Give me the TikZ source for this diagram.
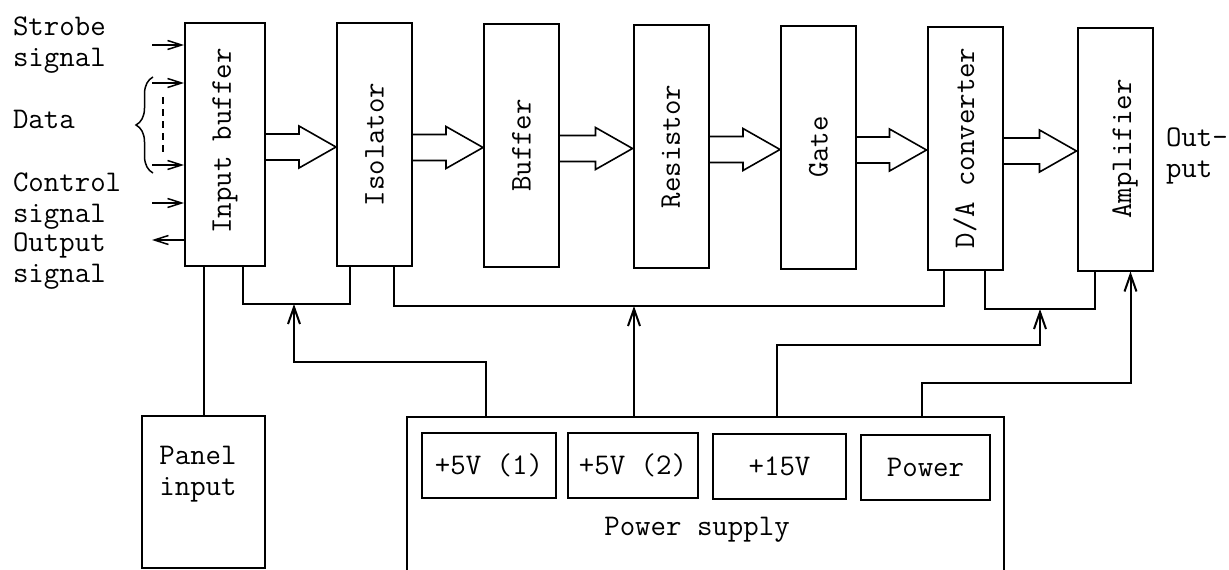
\documentclass[tikz,border=0pt]{standalone}
\usetikzlibrary{calc,arrows.meta,decorations.pathreplacing}

\begin{document}
\begin{tikzpicture}
[x=1pt, y=-1pt, black, line width=2pt,
font=\ttfamily\fontsize{30}{31}\selectfont,
block/.style = {rectangle, draw, minimum width=75pt, minimum height=243pt, inner sep=0pt},
vtext/.style = {rotate=90, inner sep=0pt},
unit/.style = {rectangle, draw, minimum height=65pt, inner sep=0pt},
lbl/.style = {align=left, inner sep=0pt},
sig/.style = {-{Straight Barb[length=14pt, width=9pt]}, line width=1.5pt},
feed/.style = {-{Straight Barb[length=17pt, width=12pt]}}]
\useasboundingbox (0,0) rectangle (1229,570);

% signal chain
\node[block, minimum width=80pt, label={[vtext, xshift=3pt]center:Input buffer}] (ib) at (225,144) {};
\node[block, label={[vtext]center:Isolator}] (iso) at (374.5,144.5) {};
\node[block, label={[vtext]center:Buffer}] (buf) at (521.5,145.5) {};
\node[block, label={[vtext]center:Resistor}] (res) at (671,146.5) {};
\node[block, label={[vtext]center:Gate}] (gate) at (818.5,147) {};
\node[block, label={[vtext]center:D/A converter}] (dac) at (965,148) {};
\node[block, label={[vtext, yshift=-10pt]center:Amplifier}] (amp) at (1115,149) {};
\foreach \a/\b in {ib/iso, iso/buf, buf/res, res/gate, gate/dac, dac/amp}
  \draw[line width=1.6pt] let \p1=(\a.east), \p2=(\b.west) in
    (\x1,{\y1+10pt}) -- ({\x2-37pt},{\y1+10pt}) -- ({\x2-37pt},{\y1+18pt}) -- (\x2,{\y1-3pt})
    -- ({\x2-37pt},{\y1-24pt}) -- ({\x2-37pt},{\y1-16pt}) -- (\x1,{\y1-16pt});
\node[lbl, anchor=north west] (out) at (1165,127) {Out-\\put};

% inputs
\node[lbl, anchor=north west] (strobe) at (12,16) {Strobe\\signal};
\node[lbl, anchor=base west] (data) at (12,128) {Data};
\node[lbl, anchor=north west] (ctrl) at (12,172) {Control\\signal};
\node[lbl, anchor=north west] (outsig) at (12,232) {Output\\signal};
\coordinate (st) at (152,45);
\coordinate (d1) at (152,83);
\coordinate (d2) at (152,165);
\coordinate (ct) at (152,203);
\coordinate (ot) at (152,240);
\draw[sig] (st) -- (st -| ib.west);
\draw[sig] (d1) -- (d1 -| ib.west);
\draw[sig] (d2) -- (d2 -| ib.west);
\draw[sig] (ct) -- (ct -| ib.west);
\draw[sig] (ot -| ib.west) -- (ot);
\draw[line width=1.5pt, dash pattern=on 7pt off 5pt] ($(d1)+(11,14)$) -- ($(d2)+(11,-10)$);
\draw[line width=1.5pt, decorate, decoration={brace, amplitude=17pt}] ($(d2)+(1,8)$) -- ($(d1)+(1,-6)$);

% panel and power supply
\node[rectangle, draw, minimum width=123pt, minimum height=152pt, inner sep=0pt] (panel) at (203.5,492) {};
\node[lbl] (paneltxt) at (198,474) {Panel\\input};
\node[minimum width=595pt, minimum height=152pt, inner sep=0pt] (ps) at (705.5,494) {};
\draw (ps.south west) |- (ps.north east) -- (ps.south east);
\node[unit, minimum width=134pt] (v1) at (489,465.5) {+5V (1)};
\node[unit, minimum width=130pt] (v2) at (633,465.5) {+5V (2)};
\node[unit, minimum width=133pt] (v3) at (779.5,466) {+15V};
\node[unit, minimum width=129pt] (pwr) at (925.5,467.5) {Power};
\node[inner sep=0pt] (pstxt) at (697,530) {Power supply};

% supply wiring
\coordinate (j1) at (294,304);
\coordinate (j2) at (634,306);
\coordinate (j3) at (1040,309);
\draw (panel.north) -- (panel.north |- ib.south);
\draw ($(ib.south east)+(-23,0)$) |- (j1) -| ($(iso.south west)+(14,0)$);
\draw ($(iso.south east)+(-19,0)$) |- (j2) -| ($(dac.south west)+(17,0)$);
\draw ($(dac.south east)+(-19,0)$) |- (j3) -| ($(amp.south west)+(18,0)$);
\draw[feed] ($(ps.north west)+(79,0)$) -- ++(0,-55) -| (j1);
\draw[feed] (j2 |- ps.north) -- (j2);
\draw[feed] ($(ps.north west)+(370,0)$) -- ++(0,-72) -| (j3);
\draw[feed] ($(ps.north west)+(515,0)$) -- ++(0,-34) -| ($(amp.south east)+(-23,0)$);
\end{tikzpicture}
\end{document}
